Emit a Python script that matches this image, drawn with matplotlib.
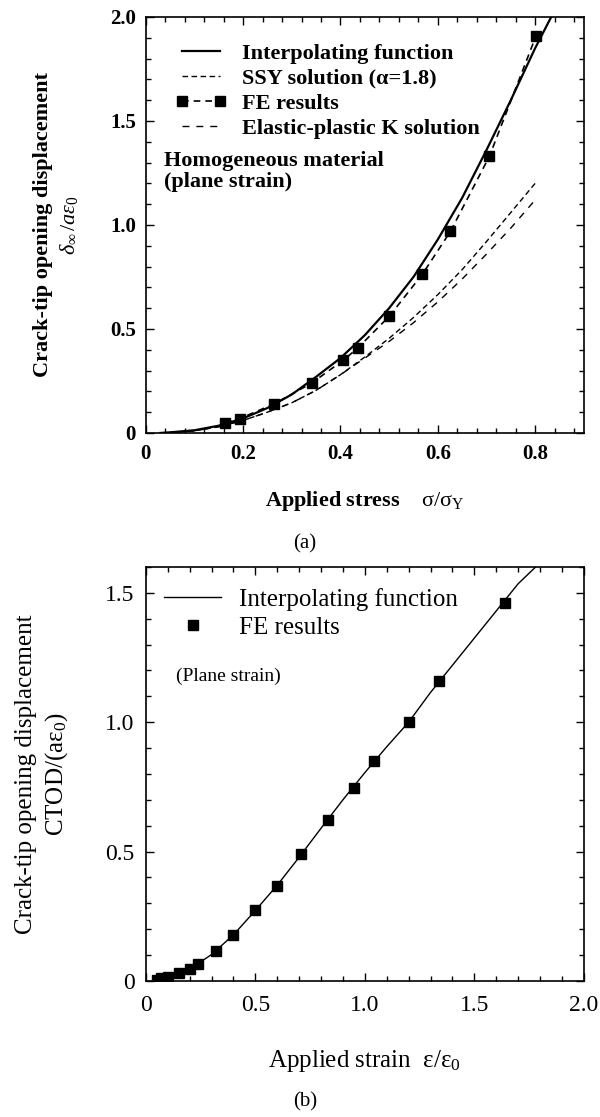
import matplotlib
matplotlib.use('Agg')
import matplotlib.pyplot as plt
from matplotlib.ticker import MultipleLocator, FuncFormatter

plt.rcParams['font.family'] = ['Liberation Serif', 'DejaVu Serif']
plt.rcParams['mathtext.fontset'] = 'custom'
plt.rcParams['mathtext.rm'] = 'Liberation Serif'
plt.rcParams['mathtext.it'] = 'Liberation Serif:italic'
plt.rcParams['mathtext.bf'] = 'Liberation Serif:bold'

# ---- (a) homogeneous material, CTOD vs applied stress ----
interp_a_x = [0.03, 0.05, 0.1, 0.15, 0.2, 0.25, 0.3, 0.35, 0.4, 0.45, 0.5, 0.55, 0.6, 0.65, 0.7, 0.75, 0.8, 0.833]
interp_a_y = [0.0, 0.003, 0.013, 0.035, 0.07, 0.12, 0.185, 0.27, 0.36, 0.47, 0.60, 0.75, 0.93, 1.13, 1.36, 1.60, 1.85, 2.0]

ssy_x = [0.03, 0.1, 0.15, 0.2, 0.25, 0.3, 0.35, 0.4, 0.45, 0.5, 0.55, 0.6, 0.65, 0.7, 0.75, 0.8]
ssy_y = [0.0, 0.01, 0.03, 0.06, 0.1, 0.145, 0.205, 0.28, 0.365, 0.455, 0.555, 0.665, 0.785, 0.92, 1.06, 1.2]

epk_x = [0.03, 0.1, 0.15, 0.2, 0.25, 0.3, 0.35, 0.4, 0.45, 0.5, 0.55, 0.6, 0.65, 0.7, 0.75, 0.8]
epk_y = [0.0, 0.01, 0.03, 0.06, 0.1, 0.145, 0.205, 0.28, 0.36, 0.44, 0.53, 0.63, 0.74, 0.86, 0.985, 1.12]

fe_a_x = [0.163, 0.193, 0.264, 0.341, 0.406, 0.435, 0.500, 0.568, 0.626, 0.706, 0.802]
fe_a_y = [0.050, 0.069, 0.140, 0.240, 0.350, 0.407, 0.560, 0.762, 0.969, 1.330, 1.910]

# ---- (b) CTOD vs applied strain ----
interp_b_x = [0.03, 0.1, 0.2, 0.3, 0.4, 0.5, 0.6, 0.7, 0.8, 0.9, 1.0, 1.1, 1.2, 1.3, 1.4, 1.5, 1.6, 1.7, 1.78]
interp_b_y = [0.0, 0.012, 0.045, 0.102, 0.178, 0.272, 0.37, 0.478, 0.59, 0.70, 0.805, 0.905, 1.0, 1.115, 1.22, 1.325, 1.43, 1.535, 1.6]

fe_b_x = [0.05, 0.07, 0.10, 0.15, 0.20, 0.24, 0.32, 0.40, 0.50, 0.60, 0.71, 0.83, 0.95, 1.04, 1.20, 1.34, 1.64]
fe_b_y = [0.005, 0.01, 0.014, 0.03, 0.048, 0.064, 0.116, 0.178, 0.274, 0.366, 0.489, 0.623, 0.747, 0.849, 1.0, 1.158, 1.462]


def fmt(v, pos):
    if abs(v) < 1e-9:
        return '0'
    return '%.1f' % v


fig = plt.figure(figsize=(6, 11.17), dpi=100)
ax1 = fig.add_axes([0.243, 0.6124, 0.730, 0.3724])
ax2 = fig.add_axes([0.243, 0.1218, 0.730, 0.3706])

# top panel
ax1.plot(interp_a_x, interp_a_y, color='k', lw=1.6, label='Interpolating function')
ax1.plot(ssy_x, ssy_y, color='k', lw=1.0, dashes=(4, 2.5), label=r'SSY solution (α=1.8)')
ax1.plot(fe_a_x, fe_a_y, color='k', lw=1.2, dashes=(4, 3), marker='s', ms=7.5,
         label='FE results')
ax1.plot(epk_x, epk_y, color='k', lw=1.0, dashes=(5, 5), label='Elastic-plastic K solution')

ax1.set_xlim(0, 0.9)
ax1.set_ylim(0, 2.0)
ax1.xaxis.set_major_locator(MultipleLocator(0.2))
ax1.xaxis.set_minor_locator(MultipleLocator(0.04))
ax1.yaxis.set_major_locator(MultipleLocator(0.5))
ax1.yaxis.set_minor_locator(MultipleLocator(0.1))
ax1.xaxis.set_major_formatter(FuncFormatter(fmt))
ax1.yaxis.set_major_formatter(FuncFormatter(fmt))
ax1.tick_params(which='both', direction='in', top=True, right=True, width=1.0)
ax1.tick_params(which='major', length=6, labelsize=15)
ax1.tick_params(which='minor', length=3.5)
ax1.tick_params(axis='x', pad=8)
ax1.tick_params(axis='y', pad=7)
for lab in ax1.get_xticklabels() + ax1.get_yticklabels():
    lab.set_fontweight('bold')
for sp in ax1.spines.values():
    sp.set_linewidth(1.2)

ax1.set_xlabel(r'Applied stress    $\mathrm{σ/σ_Y}$', fontsize=16, fontweight='bold')
ax1.xaxis.set_label_coords(0.5, -0.135)
ax1.set_ylabel('Crack-tip opening displacement\n' + r'$\delta_\infty\,/a\varepsilon_0$',
               fontsize=16, fontweight='bold', linespacing=1.3)
ax1.yaxis.set_label_coords(-0.15, 0.5)

leg1 = ax1.legend(loc='upper left', bbox_to_anchor=(0.067, 0.937), frameon=False,
                  borderpad=0, borderaxespad=0, numpoints=2, handlelength=2.3,
                  handletextpad=0.7, labelspacing=0.2,
                  prop={'size': 16, 'weight': 'bold'})

ax1.text(0.041, 0.678, 'Homogeneous material\n(plane strain)', transform=ax1.transAxes,
         fontsize=16, fontweight='bold', va='top', ha='left', linespacing=1.05)

fig.text(305 / 600, 1 - 544 / 1117, '(a)', fontsize=15, ha='center', va='center')

# bottom panel
ax2.plot(interp_b_x, interp_b_y, color='k', lw=1.0, label='Interpolating function')
ax2.plot(fe_b_x, fe_b_y, color='k', ls='none', marker='s', ms=7, label='FE results')

ax2.set_xlim(0, 2.0)
ax2.set_ylim(0, 1.6)
ax2.xaxis.set_major_locator(MultipleLocator(0.5))
ax2.xaxis.set_minor_locator(MultipleLocator(0.1))
ax2.yaxis.set_major_locator(MultipleLocator(0.5))
ax2.yaxis.set_minor_locator(MultipleLocator(0.1))
ax2.xaxis.set_major_formatter(FuncFormatter(fmt))
ax2.yaxis.set_major_formatter(FuncFormatter(fmt))
ax2.tick_params(which='both', direction='in', top=True, right=True, width=1.0)
ax2.tick_params(which='major', length=6, labelsize=17)
ax2.tick_params(which='minor', length=3.5)
ax2.tick_params(axis='x', pad=10)
ax2.tick_params(axis='y', pad=8)
for sp in ax2.spines.values():
    sp.set_linewidth(1.2)

ax2.set_xlabel(r'Applied strain  $\mathrm{ε/ε_0}$', fontsize=18)
ax2.xaxis.set_label_coords(0.5, -0.162)
ax2.set_ylabel('Crack-tip opening displacement\n' + r'$\mathrm{CTOD/(aε_0)}$',
               fontsize=18, linespacing=1.35)
ax2.yaxis.set_label_coords(-0.172, 0.5)

leg2 = ax2.legend(loc='upper left', bbox_to_anchor=(0.041, 0.949), frameon=False,
                  borderpad=0, borderaxespad=0, numpoints=1, handlelength=2.3,
                  handletextpad=0.7, labelspacing=0.21, prop={'size': 18})

ax2.text(0.068, 0.737, '(Plane strain)', transform=ax2.transAxes,
         fontsize=14, va='center', ha='left')

fig.text(305 / 600, 1 - 1102 / 1117, '(b)', fontsize=15, ha='center', va='center')

fig.savefig('out.png', dpi=100)
